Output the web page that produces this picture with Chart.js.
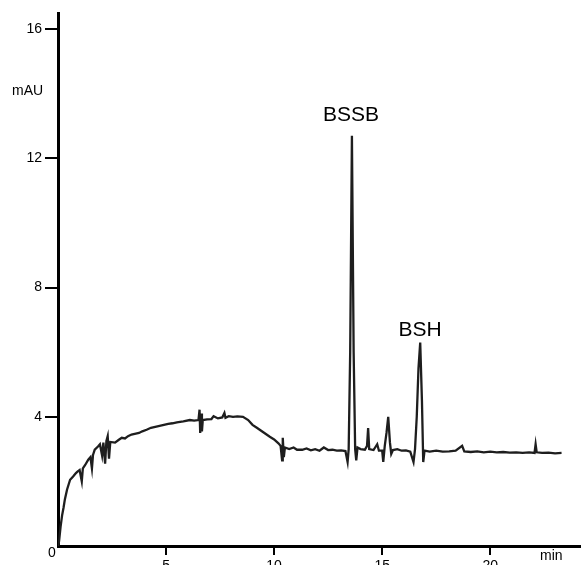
<!DOCTYPE html>
<html>
<head>
<meta charset="utf-8">
<script src="https://cdn.jsdelivr.net/npm/chart.js@4"></script>
<style>
  body { margin: 0; background: #fff; }
  canvas { display: block; }
</style>
</head>
<body>
<canvas id="myChart" width="581" height="565"></canvas>
<script>
// Chromatogram trace (time in min, absorbance in mAU)
const timeMin = [
  0, 0.05, 0.12, 0.19, 0.26, 0.32, 0.42, 0.56, 0.7, 0.82, 0.9, 1.0, 1.1, 1.15, 1.25, 1.4, 1.5, 1.57, 1.62, 1.7,
  1.85, 1.94, 2.04, 2.1, 2.18, 2.24, 2.3, 2.36, 2.42, 2.64, 2.8, 2.95, 3.1, 3.24, 3.4, 3.6, 3.75, 3.9, 4.1, 4.3,
  4.5, 4.7, 4.9, 5.1, 5.3, 5.5, 5.8, 6.1, 6.3, 6.5, 6.55, 6.58, 6.62, 6.66, 6.7, 6.9, 7.1, 7.2, 7.4, 7.6,
  7.7, 7.75, 7.9, 8.1, 8.3, 8.56, 8.8, 9.0, 9.2, 9.5, 9.8, 10.0, 10.2, 10.3, 10.37, 10.4, 10.45, 10.5, 10.7, 10.9,
  11.06, 11.3, 11.5, 11.7, 11.9, 12.1, 12.3, 12.5, 12.7, 12.9, 13.1, 13.3, 13.4, 13.45, 13.52, 13.6, 13.68, 13.75, 13.8, 13.86,
  14.0, 14.2, 14.3, 14.35, 14.4, 14.6, 14.77, 14.85, 15.0, 15.05, 15.12, 15.2, 15.28, 15.36, 15.42, 15.5, 15.7, 15.9, 16.1, 16.3,
  16.45, 16.52, 16.6, 16.68, 16.76, 16.84, 16.9, 16.96, 17.2, 17.5, 17.8, 18.1, 18.4, 18.7, 18.8, 19.1, 19.4, 19.7, 20.0, 20.3,
  20.6, 20.9, 21.2, 21.5, 21.8, 22.05, 22.1, 22.15, 22.4, 22.7, 23.0, 23.3
];
const signalMAU = [
  0, 0.15, 0.6, 0.95, 1.2, 1.45, 1.75, 2.05, 2.15, 2.25, 2.3, 2.35, 2.0, 2.4, 2.5, 2.67, 2.75, 2.4, 2.82, 2.98,
  3.08, 3.15, 2.8, 3.2, 2.55, 3.25, 3.4, 2.7, 3.22, 3.2, 3.28, 3.35, 3.33, 3.4, 3.45, 3.48, 3.5, 3.55, 3.6, 3.66,
  3.69, 3.72, 3.75, 3.78, 3.8, 3.83, 3.86, 3.9, 3.88, 3.9, 4.22, 3.5, 4.1, 3.55, 3.9, 3.92, 3.93, 4.02, 3.95, 3.98,
  4.12, 3.97, 4.02, 4.0, 4.01, 4.0, 3.9, 3.75, 3.66, 3.52, 3.38, 3.3, 3.18, 3.1, 2.65, 3.35, 2.75, 3.05, 3.0, 3.05,
  2.98, 2.98, 3.02, 2.96, 3.0, 2.95, 3.05, 2.97, 2.98, 2.95, 2.96, 2.94, 2.6, 3.0, 6.0, 12.7, 6.0, 3.0, 2.65, 3.05,
  3.0, 2.98, 3.1, 3.65, 3.0, 2.97, 3.15, 2.95, 2.95, 2.6, 3.1, 3.5, 4.0, 3.2, 2.85, 2.97, 3.0, 2.95, 2.96, 2.92,
  2.6, 3.0, 4.0, 5.5, 6.3, 4.5, 2.6, 2.95, 2.92, 2.95, 2.92, 2.93, 2.95, 3.1, 2.93, 2.91, 2.93, 2.9, 2.92, 2.9,
  2.91, 2.89, 2.9, 2.88, 2.9, 2.88, 3.15, 2.9, 2.88, 2.89, 2.87, 2.88
];

// Axis ticks
const xTicks = [5, 10, 15, 20];
const yTicks = [4, 8, 12, 16];

// Peak labels
const peakNames = ["BSSB", "BSH"];

const FONT = "'Liberation Sans', Arial, sans-serif";

// draws the loose texts: origin 0, units and peak names
const textPlugin = {
  id: 'chromaText',
  afterDraw(chart) {
    const c = chart.ctx;
    c.save();
    c.fillStyle = '#000';
    c.textBaseline = 'middle';

    c.font = '14px ' + FONT;
    c.textAlign = 'center';
    c.fillText('0', 52, 553);
    c.textAlign = 'left';
    c.fillText('mAU', 12, 91);
    c.fillText('min', 540, 556);

    c.font = '21px ' + FONT;
    c.textAlign = 'center';
    c.fillText(peakNames[0], 351, 115);
    c.fillText(peakNames[1], 420, 330);
    c.restore();
  }
};

let ctx = document.getElementById("myChart");

const config = {
  type: 'line',
  data: {
    datasets: [{
      data: timeMin.map((t, i) => ({ x: t, y: signalMAU[i] })),
      borderColor: '#1e1e1e',
      borderWidth: 2.3,
      pointRadius: 0,
      tension: 0,
      fill: false
    }]
  },
  options: {
    responsive: false,
    animation: false,
    devicePixelRatio: 1,
    layout: { padding: { top: 13, right: 0, left: 0, bottom: 0 } },
    plugins: {
      legend: { display: false },
      tooltip: { enabled: false }
    },
    scales: {
      x: {
        type: 'linear',
        min: 0,
        max: 24.2,
        afterBuildTicks: (s) => { s.ticks = xTicks.map(v => ({ value: v })); },
        afterFit: (s) => { s.height = 19; },
        grid: {
          drawOnChartArea: false,
          drawTicks: true,
          tickLength: 9,
          color: '#000',
          lineWidth: 2
        },
        border: { color: '#000', width: 3 },
        ticks: {
          color: '#000',
          padding: 3,
          autoSkip: false,
          maxRotation: 0,
          font: { size: 14, family: FONT }
        }
      },
      y: {
        min: 0,
        max: 16.5,
        afterBuildTicks: (s) => { s.ticks = yTicks.map(v => ({ value: v })); },
        afterFit: (s) => { s.width = 58; },
        grid: {
          drawOnChartArea: false,
          drawTicks: true,
          tickLength: 13,
          color: '#000',
          lineWidth: 2
        },
        border: { color: '#000', width: 3 },
        ticks: {
          color: '#000',
          padding: 3,
          font: { size: 14, family: FONT }
        }
      }
    }
  },
  plugins: [textPlugin]
};

let myChart = new Chart(ctx, config);
</script>
</body>
</html>
